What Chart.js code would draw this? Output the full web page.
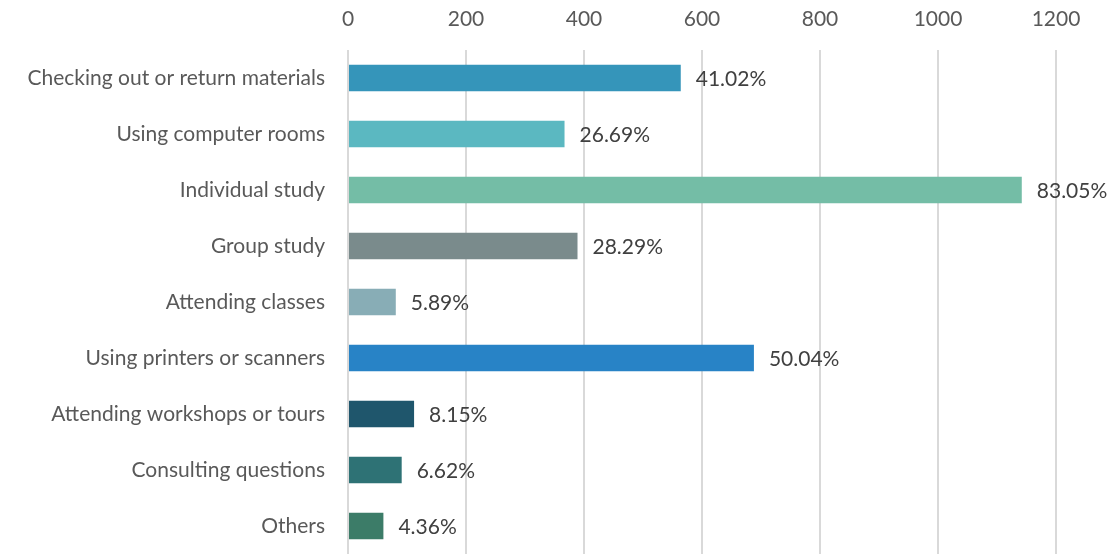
<!DOCTYPE html>
<html>
<head>
<meta charset="utf-8">
<script src="https://cdn.jsdelivr.net/npm/chart.js@4/dist/chart.umd.min.js"></script>
<style>
  html, body { margin: 0; padding: 0; background: #fff; overflow: hidden; }
  canvas { display: block; }
</style>
</head>
<body>
<canvas id="usage" width="1107" height="554"></canvas>
<script>
// Library use - respondents per activity
var categories = ['Checking out or return materials', 'Using computer rooms', 'Individual study',
    'Group study', 'Attending classes', 'Using printers or scanners',
    'Attending workshops or tours', 'Consulting questions', 'Others'];
var counts = [564, 367, 1142, 389, 81, 688, 112, 91, 60];
var percentLabels = ['41.02%', '26.69%', '83.05%', '28.29%', '5.89%', '50.04%', '8.15%', '6.62%', '4.36%'];
var barColors = ['#3595BA', '#5BB8C1', '#74BDA6', '#7A8B8C', '#88ADB6', '#2883C6', '#1F566C', '#2E7275', '#3C7C68'];
var xTicks = [0, 200, 400, 600, 800, 1000, 1200];

var font = 'Lato, "Open Sans", sans-serif';

// draws the percentage next to each bar
var barValueLabels = {
    id: 'barValueLabels',
    afterDatasetsDraw: function (chart) {
        var ctx = chart.ctx;
        var meta = chart.getDatasetMeta(0);
        ctx.save();
        ctx.font = '21px ' + font;
        ctx.fillStyle = '#404040';
        ctx.textAlign = 'left';
        ctx.textBaseline = 'middle';
        meta.data.forEach(function (bar, i) {
            ctx.fillText(percentLabels[i], bar.x + 15, bar.y + 1);
        });
        ctx.restore();
    }
};

var usageChart = new Chart(document.getElementById('usage').getContext('2d'), {
    type: 'bar',
    data: {
        labels: categories,
        datasets: [{
            data: counts,
            backgroundColor: barColors,
            categoryPercentage: 1,
            barPercentage: 0.47
        }]
    },
    options: {
        indexAxis: 'y',
        responsive: false,
        animation: false,
        layout: { padding: { left: 0, right: 51, top: 0, bottom: 0 } },
        plugins: {
            legend: { display: false },
            tooltip: { enabled: false }
        },
        scales: {
            x: {
                position: 'top',
                min: 0,
                max: 1200,
                afterBuildTicks: function (scale) {
                    scale.ticks = xTicks.map(function (v) { return { value: v }; });
                },
                afterFit: function (scale) {
                    scale.height = 50;
                    scale.paddingLeft = 0;
                    scale.paddingRight = 0;
                },
                grid: { color: '#d9d9d9', lineWidth: 2, drawTicks: false },
                border: { display: false },
                ticks: {
                    color: '#595959',
                    font: { family: font, size: 21 },
                    padding: 18,
                    callback: function (v) { return String(v); }
                }
            },
            y: {
                afterFit: function (scale) {
                    scale.width = 348;
                    scale.paddingTop = 0;
                    scale.paddingBottom = 0;
                },
                grid: { display: false },
                border: { display: false },
                ticks: { color: '#595959', font: { family: font, size: 21 }, padding: 15 }
            }
        }
    },
    plugins: [barValueLabels]
});
</script>
</body>
</html>
